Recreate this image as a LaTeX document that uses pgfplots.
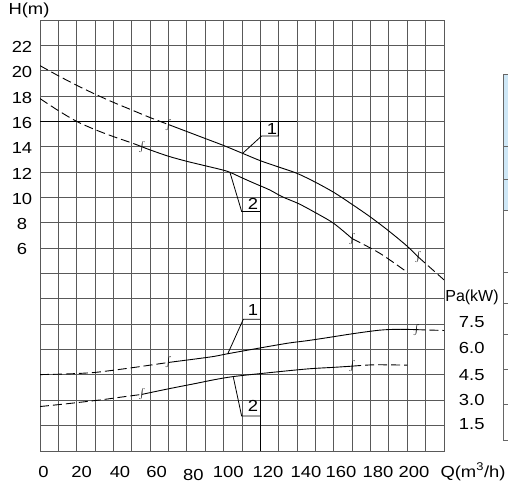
\documentclass[border=0pt]{standalone}
\usepackage{fontspec}
\setmainfont{Liberation Sans}
\usepackage{pgfplots}
\pgfplotsset{compat=1.18}
\definecolor{tblue}{RGB}{207,232,247}
\newcommand\T[1]{\scalebox{1.15}[1]{#1}}
\newcommand\lbl{\fontsize{16}{19}\selectfont}
\newcommand\brk{\fontsize{15}{15}\selectfont}
\begin{document}
\begin{tikzpicture}[x=1pt,y=1pt]
\useasboundingbox (0,0) rectangle (508,487);
% ---------------- head axis ----------------
\begin{axis}[at={(40pt,36pt)}, anchor=south west, width=404pt, height=431pt, scale only axis,
  xmin=0, xmax=220, ymin=-10, ymax=24,
  xtick={0,10,...,220}, ytick={-10,-8,...,24},
  xmajorticks=false, ymajorticks=false, xmajorgrids=true, ymajorgrids=true,
  grid style={black!65, line width=0.9pt},
  axis line style={black!65, line width=0.9pt}]
\draw[black, line width=1.3pt] (axis cs:0,16) -- (axis cs:140,16);
\draw[black, line width=1.3pt] (axis cs:120,16) -- (axis cs:120,-10);
% curve 1
\addplot[black, line width=0.9pt, smooth, dash pattern=on 9pt off 4pt] coordinates {
 (0,20.4) (10,19.6) (20,18.85) (30,18.15) (40,17.5) (50,16.9) (60,16.3) (70,15.75)};
\addplot[black, line width=0.9pt, smooth] coordinates {
 (70,15.75) (80,15.2) (90,14.65) (100,14.1) (110,13.5) (120,12.9) (130,12.4) (140,11.9)
 (150,11.2) (160,10.4) (170,9.45) (180,8.45) (190,7.35) (200,6.15) (206,5.3)};
\addplot[black, line width=0.9pt, dash pattern=on 9pt off 4pt] coordinates {
 (206,5.3) (213,4.4) (220,3.5)};
% curve 2
\addplot[black, line width=0.9pt, smooth, dash pattern=on 9pt off 4pt] coordinates {
 (0,17.8) (10,16.85) (20,16.0) (30,15.35) (40,14.8) (50,14.3) (55.5,14.0)};
\addplot[black, line width=0.9pt, smooth] coordinates {
 (55.5,14.0) (60,13.75) (70,13.25) (80,12.85) (90,12.5) (100,12.15) (104,11.95) (110,11.55)
 (117,11.1) (125,10.6) (132,10.05) (141,9.5) (150,8.8) (160,7.95) (170,6.75)};
\addplot[black, line width=0.9pt, smooth, dash pattern=on 9pt off 4pt] coordinates {
 (170,6.75) (185,5.6) (200,4.1)};
% break marks
\node[font=\brk, inner sep=0pt] at (axis cs:70,15.75) {$\int$};
\node[font=\brk, inner sep=0pt] at (axis cs:206,5.3) {$\int$};
\node[font=\brk, inner sep=0pt] at (axis cs:55.5,14.0) {$\int$};
\node[font=\brk, inner sep=0pt] at (axis cs:170,6.75) {$\int$};
% labels
\draw[black, line width=0.8pt] (axis cs:110.7,13.53) -- (axis cs:120.7,14.85) -- (axis cs:129.8,14.85) -- (axis cs:129.8,16);
\node[font=\lbl, inner sep=0pt] at (axis cs:126.3,15.4) {\T{1}};
\draw[black, line width=0.8pt] (axis cs:103.5,11.95) -- (axis cs:109.8,8.9) -- (axis cs:119.8,8.9);
\node[font=\lbl, inner sep=0pt] at (axis cs:116,9.5) {\T{2}};
\end{axis}
% ---------------- power axis ----------------
\begin{axis}[at={(40pt,36pt)}, anchor=south west, width=404pt, height=431pt, scale only axis,
  xmin=0, xmax=220, ymin=0, ymax=25.5, hide axis]
\addplot[black, line width=0.9pt, smooth, dash pattern=on 9pt off 4pt] coordinates {
 (0,4.52) (15,4.56) (29,4.64) (40,4.78) (51,4.94) (60,5.08) (70,5.24)};
\addplot[black, line width=0.9pt, smooth] coordinates {
 (70,5.24) (85,5.45) (95,5.6) (102,5.75) (120,6.1) (135,6.38) (145,6.52) (155,6.68) (171,6.95)
 (185,7.15) (195,7.2) (205,7.18)};
\addplot[black, line width=0.9pt, dash pattern=on 9pt off 4pt] coordinates {
 (205,7.18) (220,7.13)};
\addplot[black, line width=0.9pt, smooth, dash pattern=on 9pt off 4pt] coordinates {
 (0,2.63) (15,2.8) (32.7,3.02) (45,3.2) (55.5,3.35)};
\addplot[black, line width=0.9pt, smooth] coordinates {
 (55.5,3.35) (70,3.68) (85,4.0) (95,4.22) (105,4.4) (120,4.58) (145,4.85) (160,4.95) (170,5.02)};
\addplot[black, line width=0.9pt, smooth, dash pattern=on 9pt off 4pt] coordinates {
 (170,5.02) (182,5.1) (200,5.08)};
\node[font=\brk, inner sep=0pt] at (axis cs:70,5.24) {$\int$};
\node[font=\brk, inner sep=0pt] at (axis cs:205,7.18) {$\int$};
\node[font=\brk, inner sep=0pt] at (axis cs:55.5,3.35) {$\int$};
\node[font=\brk, inner sep=0pt] at (axis cs:170,5.02) {$\int$};
\draw[black, line width=0.8pt] (axis cs:102.2,5.74) -- (axis cs:110.7,7.79) -- (axis cs:120.3,7.79);
\node[font=\lbl, inner sep=0pt] at (axis cs:116,8.35) {\T{1}};
\draw[black, line width=0.8pt] (axis cs:105.3,4.36) -- (axis cs:109.8,2.07) -- (axis cs:119.8,2.07);
\node[font=\lbl, inner sep=0pt] at (axis cs:116,2.65) {\T{2}};
\end{axis}
% ---------------- tick labels ----------------
\foreach \v/\py in {22/46.7,20/72,18/97.5,16/123,14/148,12/173.5,10/199,8/224,6/249}
  \node[font=\lbl, inner sep=0pt] at (22,{487-\py}) {\T{\v}};
\foreach \v/\px/\py in {0/43.5/471.7,20/81.7/471.7,40/120/471.7,60/156.7/471.7,80/193.3/475,100/228.3/471.7,
  120/268/471.7,140/306/471.7,160/341/471.7,180/378/471.7,200/414/471.7}
  \node[font=\lbl, inner sep=0pt] at (\px,{487-\py}) {\T{\v}};
\node[font=\lbl, inner sep=0pt] at (473,{487-471.7}) {\T{Q(m\textsuperscript{3}/h)}};
\node[font=\lbl, inner sep=0pt] at (29,{487-10}) {\T{H(m)}};
\node[font=\lbl, inner sep=0pt] at (472,{487-297.5}) {Pa(kW)};
\foreach \v/\py in {7.5/321.7,6.0/348.3,4.5/375,3.0/400,1.5/424.3}
  \node[font=\lbl, inner sep=0pt] at (471.7,{487-\py}) {\T{\v}};
% ---------------- cropped table at right ----------------
\fill[tblue] (503.5,{487-74}) rectangle (508,{487-210});
\draw[black!60, line width=0.9pt] (503.5,{487-74}) -- (503.5,{487-440}) -- (508,{487-440});
\foreach \py in {74,146,179,210,272,303,334,369,404}
  \draw[black!60, line width=0.9pt] (503.5,{487-\py}) -- (508,{487-\py});
\end{tikzpicture}
\end{document}
